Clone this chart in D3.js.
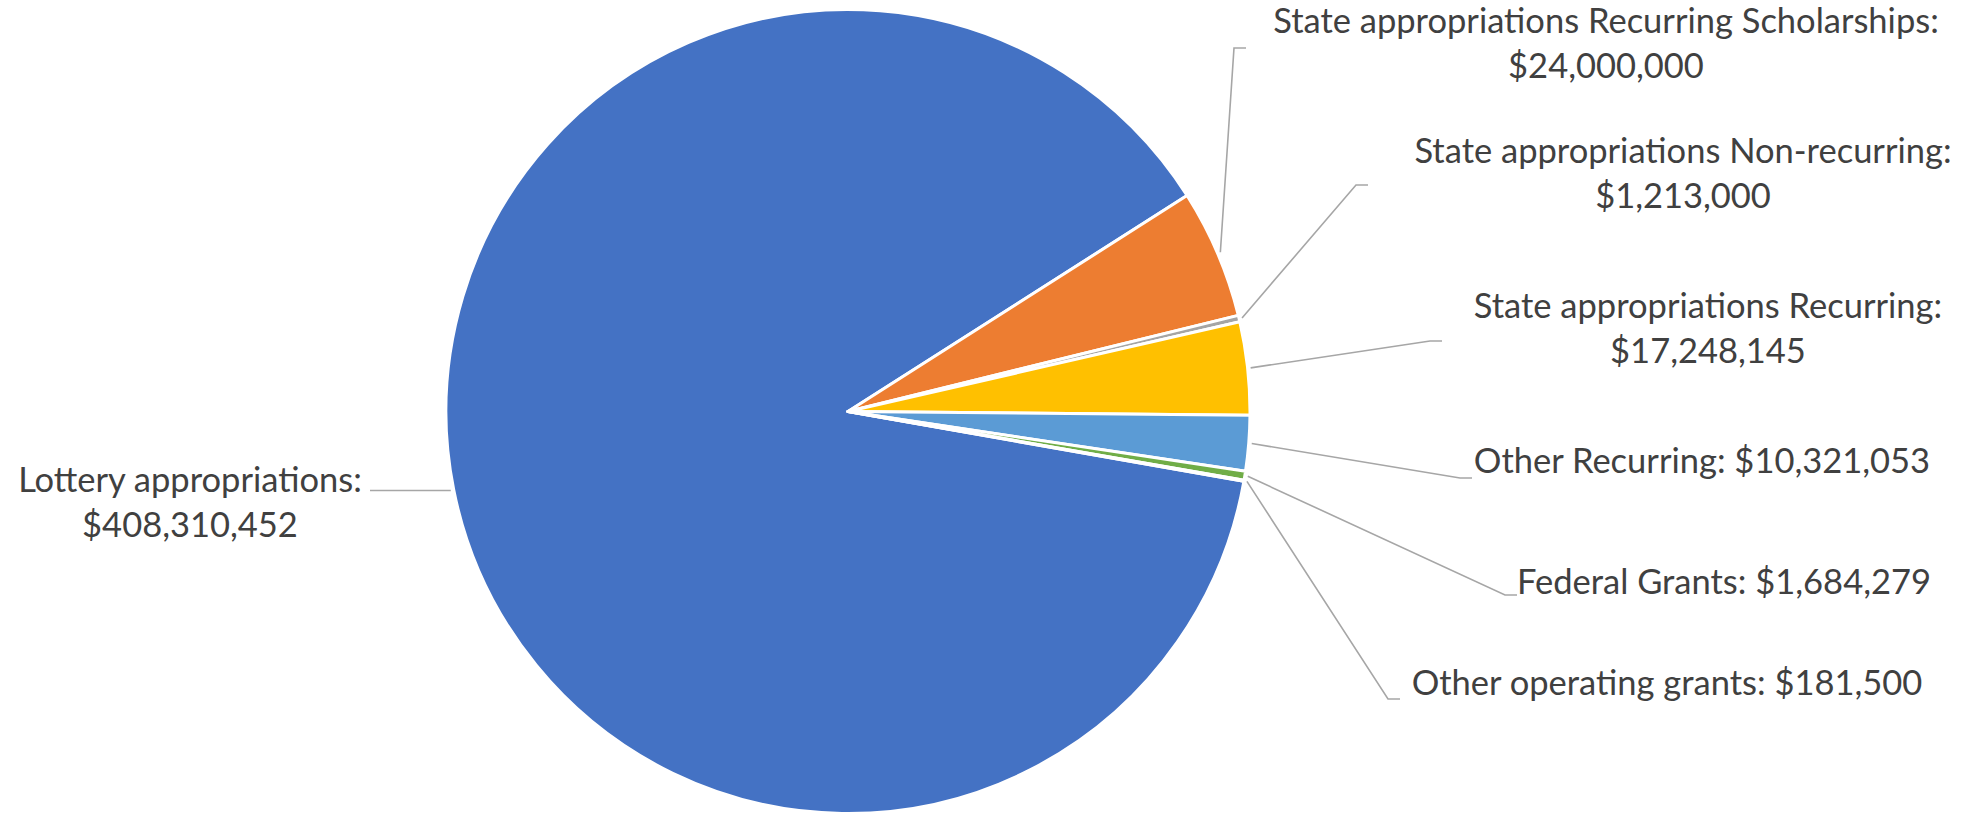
<!DOCTYPE html>
<html>
<head>
<meta charset="utf-8">
<script src="https://cdn.jsdelivr.net/npm/d3@7"></script>
<style>
  html, body { margin: 0; padding: 0; background: #ffffff; }
  svg { display: block; }
  text { font-family: Lato, "Open Sans", sans-serif; fill: #404040; }
</style>
</head>
<body>
<svg id="chart" width="1987" height="816"></svg>
<script>
// ---- data ----
const categories = [
  "Lottery appropriations",
  "State appropriations Recurring Scholarships",
  "State appropriations Non-recurring",
  "State appropriations Recurring",
  "Other Recurring",
  "Federal Grants",
  "Other operating grants"
];
const values = [408310452, 24000000, 1213000, 17248145, 10321053, 1684279, 181500];
const twoLineLabel = [true, true, true, true, false, false, false];

// ---- styles / layout ----
const colors = ["#4472C4", "#ED7D31", "#A5A5A5", "#FFC000", "#5B9BD5", "#70AD47", "#264478"];
const W = 1987, H = 816;
const cx = 848, cy = 411.5, R = 402;
const firstSliceAngle = 100; // degrees, clockwise from 12 o'clock
const fontSize = 34.5, lineGap = 45;
// label anchor (centre x, first baseline y) and leader elbow
const labelLayout = [
  { x: 190,  y: 492, ex: 370,  ey: null, side: "left" },
  { x: 1606, y: 33,  ex: 1234, ey: 48,   side: "right" },
  { x: 1683, y: 163, ex: 1356, ey: 185,  side: "right" },
  { x: 1708, y: 318, ex: 1430, ey: 341,  side: "right" },
  { x: 1702, y: 473, ex: 1460, ey: 478,  side: "right" },
  { x: 1724, y: 594, ex: 1505, ey: 595,  side: "right" },
  { x: 1667, y: 695, ex: 1388, ey: 699,  side: "right" }
];

const fmt = d3.format("$,");
const data = categories.map((c, i) => ({ name: c, value: values[i], i }));

const svg = d3.select("#chart");
const g = svg.append("g").attr("transform", `translate(${cx},${cy})`);

const start = firstSliceAngle * Math.PI / 180;
const pie = d3.pie().sort(null).value(d => d.value)
  .startAngle(start).endAngle(start + 2 * Math.PI);
const arcs = pie(data);

const arc = d3.arc().innerRadius(0).outerRadius(R);
const edgeArc = d3.arc().innerRadius(R + 3).outerRadius(R + 3);

g.selectAll("path.slice").data(arcs).enter().append("path")
  .attr("class", "slice")
  .attr("d", arc)
  .attr("fill", d => colors[d.data.i])
  .attr("stroke", "#ffffff")
  .attr("stroke-width", 3)
  .attr("stroke-linejoin", "round");

// leader lines
const leaders = svg.append("g");
arcs.forEach(a => {
  const L = labelLayout[a.data.i];
  const c = edgeArc.centroid(a);
  const sx = cx + c[0], sy = cy + c[1];
  let pts;
  if (L.side === "left") {
    pts = [[sx, sy], [L.ex, sy]];
  } else {
    pts = [[sx, sy], [L.ex, L.ey], [L.ex + 12, L.ey]];
  }
  leaders.append("path")
    .attr("d", d3.line()(pts))
    .attr("fill", "none")
    .attr("stroke", "#A6A6A6")
    .attr("stroke-width", 1.6);
});

// labels
const labels = svg.append("g");
data.forEach(d => {
  const L = labelLayout[d.i];
  const lines = twoLineLabel[d.i]
    ? [d.name + ":", fmt(d.value)]
    : [d.name + ": " + fmt(d.value)];
  const t = labels.append("text")
    .attr("text-anchor", "middle")
    .attr("font-size", fontSize);
  lines.forEach((s, k) => {
    t.append("tspan").attr("x", L.x).attr("y", L.y + k * lineGap).text(s);
  });
});
</script>
</body>
</html>
